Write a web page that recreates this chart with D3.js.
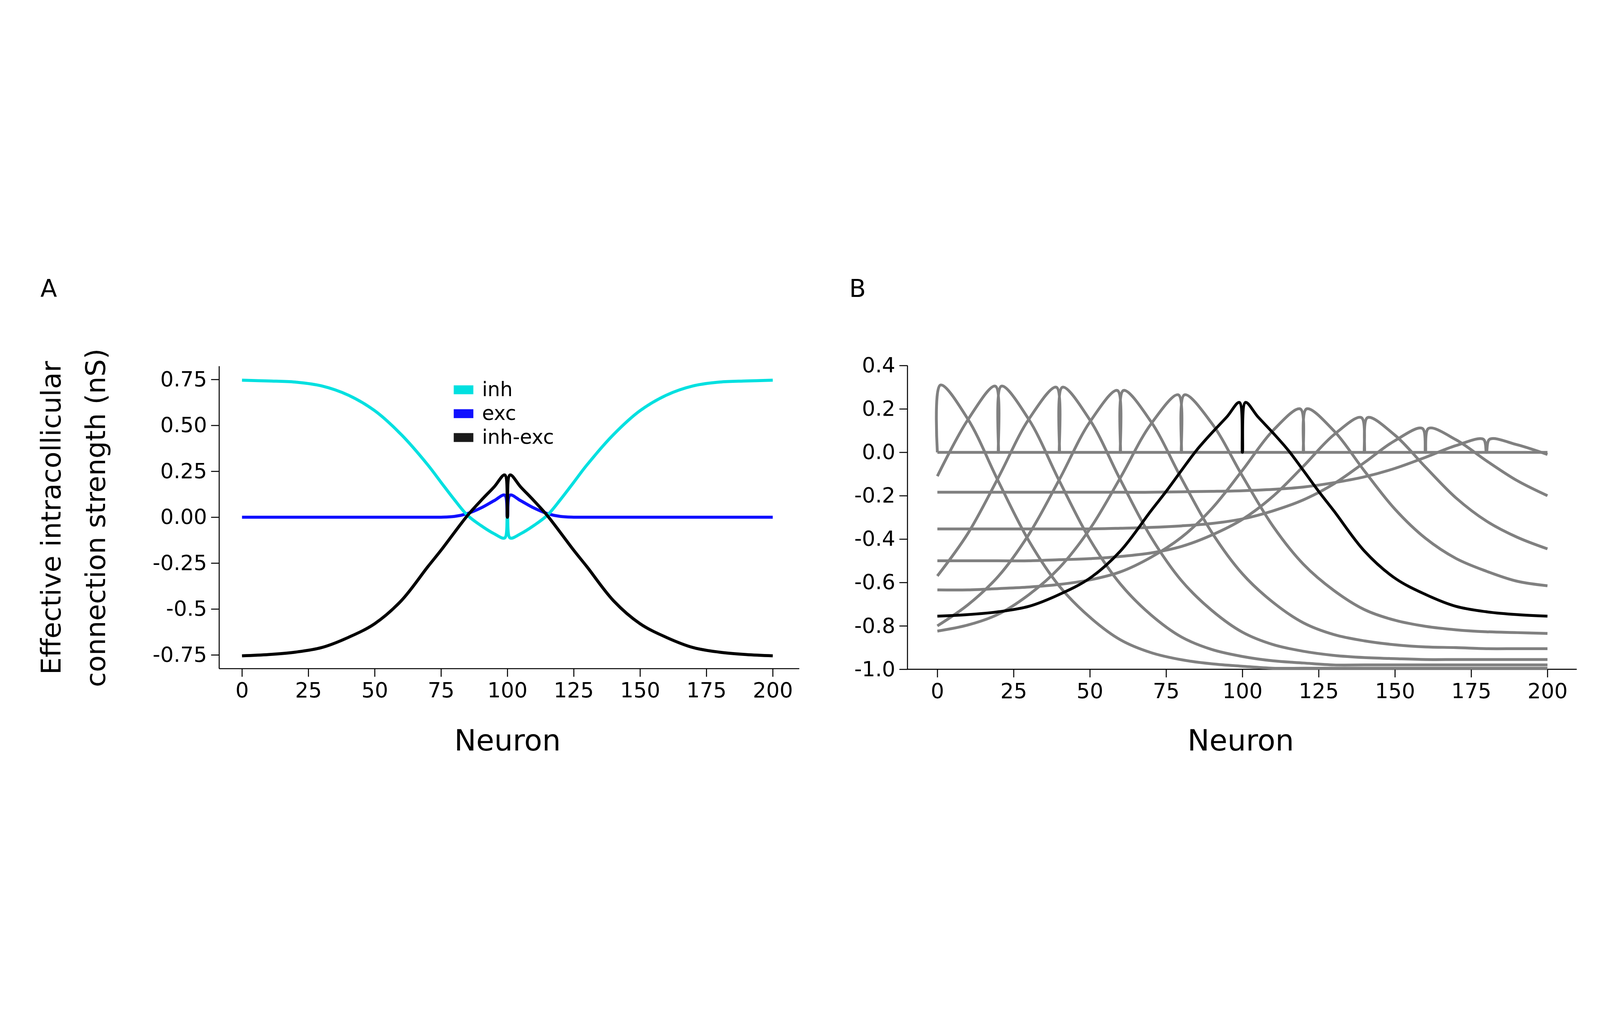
<!DOCTYPE html>
<html>
<head>
<meta charset="utf-8">
<script src="https://cdn.jsdelivr.net/npm/d3@7"></script>
<style>
  html, body { margin: 0; padding: 0; background: #fff; overflow: hidden; }
  svg { display: block; width: 100vw; height: 100vh; }
  text { font-family: "DejaVu Sans", sans-serif; }
</style>
</head>
<body>
<script>
// ---- data ----
var neuronsA = [0,10,20,30,40,50,60,70,75,80,85,90,95,99,100,101,105,110,115,120,125,130,140,150,160,170,180,190,200];
var inhVals  = [0.746,0.742,0.736,0.715,0.665,0.58,0.45,0.285,0.19,0.096,0.01,-0.045,-0.09,-0.113,0,-0.113,-0.09,-0.045,0.01,0.096,0.19,0.285,0.45,0.58,0.665,0.715,0.736,0.742,0.746];
var excVals  = [0,0,0,0,0,0,0,0,0,0.004,0.02,0.05,0.09,0.12,0,0.12,0.09,0.05,0.02,0.004,0,0,0,0,0,0,0,0,0];
var diffVals = [-0.755,-0.748,-0.735,-0.71,-0.655,-0.58,-0.455,-0.27,-0.18,-0.084,0.01,0.09,0.165,0.23,0,0.23,0.165,0.09,0.01,-0.084,-0.18,-0.27,-0.455,-0.58,-0.655,-0.71,-0.735,-0.748,-0.755];

var gridB = d3.range(0, 201, 10);
var grayCenters = [0,20,40,60,80,120,140,160,180];
var grayPeaks = [0.31,0.305,0.30,0.285,0.265,0.20,0.16,0.11,0.06];
var grayVals = [
  [null,0.153,-0.134,-0.408,-0.617,-0.76,-0.864,-0.923,-0.956,-0.975,-0.986,-0.995,-0.995,-0.995,-0.995,-0.995,-0.995,-0.995,-0.995,-0.995,-0.995],
  [-0.11,0.15,null,0.151,-0.132,-0.402,-0.607,-0.749,-0.851,-0.909,-0.941,-0.961,-0.971,-0.98,-0.98,-0.98,-0.98,-0.98,-0.98,-0.98,-0.98],
  [-0.57,-0.374,-0.116,0.153,null,0.149,-0.127,-0.39,-0.591,-0.729,-0.829,-0.886,-0.917,-0.936,-0.946,-0.951,-0.955,-0.955,-0.955,-0.955,-0.955],
  [-0.80,-0.703,-0.571,-0.378,-0.125,0.14,null,0.142,-0.12,-0.37,-0.56,-0.691,-0.786,-0.84,-0.869,-0.887,-0.897,-0.90,-0.905,-0.905,-0.905],
  [-0.824,-0.796,-0.746,-0.656,-0.532,-0.353,-0.117,0.13,null,0.133,-0.109,-0.34,-0.516,-0.637,-0.725,-0.774,-0.802,-0.818,-0.827,-0.831,-0.835],
  [-0.634,-0.634,-0.628,-0.621,-0.609,-0.588,-0.551,-0.484,-0.392,-0.259,-0.083,0.10,null,0.099,-0.086,-0.262,-0.396,-0.489,-0.548,-0.594,-0.615],
  [-0.50,-0.50,-0.50,-0.50,-0.495,-0.49,-0.48,-0.464,-0.434,-0.381,-0.309,-0.203,-0.064,0.081,null,0.079,-0.068,-0.21,-0.317,-0.391,-0.445],
  [-0.353,-0.353,-0.353,-0.353,-0.353,-0.353,-0.35,-0.346,-0.339,-0.328,-0.307,-0.27,-0.219,-0.145,-0.047,0.054,null,0.058,-0.039,-0.13,-0.20],
  [-0.184,-0.184,-0.184,-0.184,-0.184,-0.184,-0.184,-0.184,-0.182,-0.18,-0.177,-0.171,-0.16,-0.14,-0.113,-0.074,-0.023,0.031,null,0.035,-0.01]
];
var zeroVals = gridB.map(function () { return 0; });

var ticksX = [0,25,50,75,100,125,150,175,200];
var ticksYA = [0.75,0.5,0.25,0,-0.25,-0.5,-0.75];
var tickLabelsYA = ["0.75","0.50","0.25","0.00","-0.25","-0.5 ","-0.75"];
var ticksYB = [0.4,0.2,0,-0.2,-0.4,-0.6,-0.8,-1.0];
var tickLabelsYB = ["0.4","0.2","0.0","-0.2","-0.4","-0.6","-0.8","-1.0"];
var legendNames = ["inh","exc","inh-exc"];
var legendColors = ["#00e0e0","#1010ff","#1a1a1a"];

// ---- layout ----
var W = 7913, H = 2598;
var svg = d3.select("body").append("svg")
  .attr("viewBox", `0 0 ${W} ${H}`)
  .attr("preserveAspectRatio", "xMidYMid meet");

var tickFont = 104, labelFont = 145;

function drawAxes(g, x, y, yTicks, yLabels, top, bottom, left, right) {
  var xa = g.append("g").attr("transform", `translate(0,${bottom})`)
    .call(d3.axisBottom(x).tickValues(ticksX).tickSize(40).tickPadding(28).tickSizeOuter(0));
  var ya = g.append("g").attr("transform", `translate(${left},0)`)
    .call(d3.axisLeft(y).tickValues(yTicks).tickFormat(function (d, i) { return yLabels[i]; })
      .tickSize(40).tickPadding(20).tickSizeOuter(0));
  xa.select(".domain").attr("d", `M${left},0H${right}`);
  ya.select(".domain").attr("d", `M0,${top}V${bottom}`);
  [xa, ya].forEach(function (a) {
    a.select(".domain").attr("stroke", "#000").attr("stroke-width", 5);
    a.selectAll(".tick line").attr("stroke", "#000").attr("stroke-width", 5);
    a.selectAll("text").attr("font-size", tickFont).attr("fill", "#000")
      .style("font-family", "DejaVu Sans");
  });
}

// ---------- panel A ----------
var xA = d3.scaleLinear().domain([-8.6, 210]).range([1084, 3953]);
var yA = d3.scaleLinear().domain([0.75, -0.75]).range([666, 2028]);
var gA = svg.append("g");
drawAxes(gA, xA, yA, ticksYA, tickLabelsYA, 600, 2096, 1084, 3953);

var lineA = d3.line().x(function (d) { return xA(d[0]); }).y(function (d) { return yA(d[1]); })
  .curve(d3.curveCatmullRom.alpha(0.5));
[[excVals, legendColors[1]], [inhVals, legendColors[0]], [diffVals, "#000"]].forEach(function (s) {
  gA.append("path").datum(neuronsA.map(function (n, i) { return [n, s[0][i]]; }))
    .attr("d", lineA).attr("fill", "none").attr("stroke", s[1]).attr("stroke-width", 15)
    .attr("stroke-linejoin", "round");
});

// legend
legendNames.forEach(function (name, i) {
  var ly = 717 + i * 118;
  gA.append("rect").attr("x", 2244).attr("y", ly - 22).attr("width", 97).attr("height", 44)
    .attr("fill", legendColors[i]);
  gA.append("text").attr("x", 2384).attr("y", ly + 32).attr("font-size", 98).text(name);
});

gA.append("text").attr("x", 2510).attr("y", 2500).attr("text-anchor", "middle")
  .attr("font-size", labelFont).text("Neuron");
gA.append("text").attr("transform", "translate(300,1350) rotate(-90)").attr("text-anchor", "middle")
  .attr("font-size", 135).text("Effective intracollicular");
gA.append("text").attr("transform", "translate(520,1350) rotate(-90)").attr("text-anchor", "middle")
  .attr("font-size", 135).text("connection strength (nS)");
svg.append("text").attr("x", 200).attr("y", 258).attr("font-size", 120).text("A");

// ---------- panel B ----------
var xB = d3.scaleLinear().domain([-9.8, 209.6]).range([4488, 7798]);
var yB = d3.scaleLinear().domain([0.4, -1.0]).range([597, 2099]);
var gB = svg.append("g");
drawAxes(gB, xB, yB, ticksYB, tickLabelsYB, 597, 2099, 4488, 7798);

var lineB = d3.line().x(function (d) { return xB(d[0]); }).y(function (d) { return yB(d[1]); })
  .curve(d3.curveCatmullRom.alpha(0.5));

function grayPoints(vals, c, p) {
  var pts = [];
  gridB.forEach(function (n, i) { if (vals[i] !== null) pts.push([n, vals[i]]); });
  if (c - 1 >= 0) pts.push([c - 1, p]);
  pts.push([c, 0]);
  pts.push([c + 1, p]);
  return pts.sort(function (a, b) { return a[0] - b[0]; });
}

gB.append("path").datum(gridB.map(function (n, i) { return [n, zeroVals[i]]; }))
  .attr("d", lineB).attr("fill", "none").attr("stroke", "#808080").attr("stroke-width", 14);
grayCenters.forEach(function (c, k) {
  gB.append("path").datum(grayPoints(grayVals[k], c, grayPeaks[k]))
    .attr("d", lineB).attr("fill", "none").attr("stroke", "#808080").attr("stroke-width", 14)
    .attr("stroke-linejoin", "round");
});
gB.append("path").datum(neuronsA.map(function (n, i) { return [n, diffVals[i]]; }))
  .attr("d", lineB).attr("fill", "none").attr("stroke", "#000").attr("stroke-width", 14)
  .attr("stroke-linejoin", "round");

gB.append("text").attr("x", 6136).attr("y", 2500).attr("text-anchor", "middle")
  .attr("font-size", labelFont).text("Neuron");
svg.append("text").attr("x", 4200).attr("y", 258).attr("font-size", 120).text("B");
</script>
</body>
</html>
